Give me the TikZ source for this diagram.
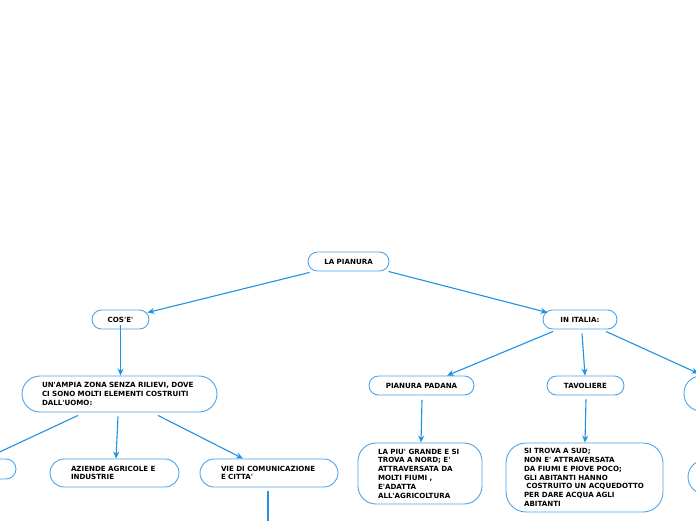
\documentclass[tikz,border=0pt]{standalone}
\usepackage{fontspec}
\newfontfamily\vfont{DejaVu Sans}
\usetikzlibrary{arrows.meta}
\definecolor{linec}{RGB}{30,146,228}
\definecolor{boxc}{RGB}{74,163,236}
\tikzset{
  box/.style={draw=boxc, line width=0.9pt, rectangle, rounded corners=#1,
    font=\vfont\fontsize{7.1}{8.8}\selectfont\bfseries, inner ysep=0pt, align=left},
  box/.default=9.5pt,
  conn/.style={draw=linec, line width=1.1pt, -{Stealth[length=7pt,width=6pt]}},
}
\begin{document}
\begin{tikzpicture}[x=1pt,y=-1pt]
\useasboundingbox (0,0) rectangle (696,520);
\clip (0,0) rectangle (696,520);
\fill[white] (0,0) rectangle (696,520);
% nodes
\node[box, minimum width=81pt, minimum height=19pt, inner xsep=0pt, align=center] (lp) at (348.5,261.5) {LA PIANURA};
\node[box, minimum width=57pt, minimum height=19pt, inner xsep=0pt, align=center] (cose) at (120.5,319.5) {COS'E'};
\node[box, minimum width=74pt, minimum height=19pt, inner xsep=0pt, align=center] (ital) at (580,319.5) {IN ITALIA:};
\node[box=18pt, inner xsep=20pt, text width=155pt, minimum height=36pt] (amp) at (119.5,394) {UN'AMPIA ZONA SENZA RILIEVI, DOVE\\CI SONO MOLTI ELEMENTI COSTRUITI\\DALL'UOMO:};
\node[box=10pt, minimum width=112pt, minimum height=20pt] (lft) at (-40,469) {};
\node[box=14pt, inner xsep=21pt, text width=87pt, minimum height=28pt] (azi) at (114.5,473) {AZIENDE AGRICOLE E\\INDUSTRIE};
\node[box=14pt, inner xsep=21pt, text width=96pt, minimum height=28pt] (vie) at (269,473) {VIE DI COMUNICAZIONE\\E CITTA'};
\node[box, minimum width=105pt, minimum height=19pt, inner xsep=0pt, align=center] (pad) at (421.5,385.5) {PIANURA PADANA};
\node[box, minimum width=77pt, minimum height=19pt, inner xsep=0pt, align=center] (tav) at (585.5,385.5) {TAVOLIERE};
\node[box=17pt, minimum width=152pt, minimum height=35pt] (rmid) at (760,393.5) {};
\node[box=18pt, inner xsep=20pt, text width=84pt, minimum height=61pt] (piu) at (420,473.5) {LA PIU' GRANDE E SI\\TROVA A NORD; E'\\ATTRAVERSATA DA\\MOLTI FIUMI ,\\E'ADATTA\\ALL'AGRICOLTURA};
\node[box=20pt, inner xsep=18pt, text width=121pt, minimum height=69pt] (sit) at (584.5,477.5) {SI TROVA A SUD;\\NON E' ATTRAVERSATA\\DA FIUMI E PIOVE POCO;\\GLI ABITANTI HANNO\\\ COSTRUITO UN ACQUEDOTTO\\PER DARE ACQUA AGLI\\ABITANTI};
\node[box=17pt, minimum width=164pt, minimum height=34pt] (rbot) at (770,477) {};
\node[box, minimum width=100pt, minimum height=20pt] (vbot) at (268,560) {};
% connectors
\draw[conn] ([shift={(2,1)}]lp.south west) -- ([shift={(-2,3)}]cose.north east);
\draw[conn] ([shift={(-1,0)}]lp.south east) -- ([shift={(5,3)}]ital.north west);
\draw[conn] ([yshift=4]cose.south) -- (cose.south |- amp.north);
\draw[conn] ([shift={(-41.5,3)}]amp.south) -- ([shift={(32,-3)}]lft.north);
\draw[conn] ([shift={(-1.5,4)}]amp.south) -- ([shift={(1.5,0)}]azi.north);
\draw[conn] ([shift={(38.5,3)}]amp.south) -- ([shift={(-26,0)}]vie.north);
\draw[conn] ([shift={(-27,2)}]ital.south) -- ([shift={(25.5,0)}]pad.north);
\draw[conn] ([shift={(2,4)}]ital.south) -- ([shift={(-0.5,0)}]tav.north);
\draw[conn] ([shift={(26,2)}]ital.south) -- ([shift={(15,-2)}]rmid.north west);
\draw[conn] ([shift={(0.5,4.5)}]pad.south) -- ([shift={(1,0)}]piu.north);
\draw[conn] ([shift={(0.5,4)}]tav.south) -- ([shift={(0.5,0)}]sit.north);
\draw[conn] ([shift={(-1,4)}]vie.south) -- (vbot.north);
\end{tikzpicture}
\end{document}
